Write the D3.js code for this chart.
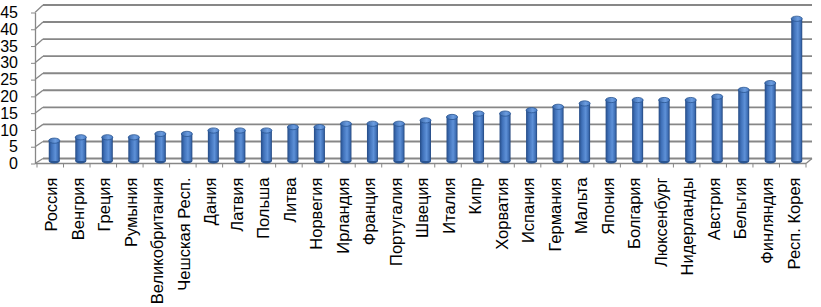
<!DOCTYPE html>
<html><head><meta charset="utf-8">
<script src="https://cdn.jsdelivr.net/npm/d3@7"></script>
<style>
html,body{margin:0;padding:0;background:#fff;}
svg{display:block;}
text{font-family:"Liberation Sans",Arial,sans-serif;fill:#000;}
</style></head>
<body>
<svg id="chart" width="821" height="307"></svg>
<script>
const categories = ["Россия","Венгрия","Греция","Румыния","Великобритания","Чешская Респ.","Дания","Латвия","Польша","Литва","Норвегия","Ирландия","Франция","Португалия","Швеция","Италия","Кипр","Хорватия","Испания","Германия","Мальта","Япония","Болгария","Люксенбург","Нидерланды","Австрия","Бельгия","Финляндия","Респ. Корея"];
const values = [6,7,7,7,8,8,9,9,9,10,10,11,11,11,12,13,14,14,15,16,17,18,18,18,18,19,21,23,42];
const yTicks = [0,5,10,15,20,25,30,35,40,45];

const svg = d3.select("#chart");
const defs = svg.append("defs");
const g1 = defs.append("linearGradient").attr("id","cyl").attr("x1","0").attr("x2","1").attr("y1","0").attr("y2","0");
[["0%","#254b85"],["25%","#3f70b8"],["60%","#5e91d8"],["85%","#3d6db3"],["100%","#23467c"]].forEach(([o,c])=>g1.append("stop").attr("offset",o).attr("stop-color",c));
const g2 = defs.append("linearGradient").attr("id","capg").attr("x1","0").attr("x2","1").attr("y1","0").attr("y2","0");
[["0%","#3a68aa"],["60%","#6c9de0"],["100%","#4a7cc4"]].forEach(([o,c])=>g2.append("stop").attr("offset",o).attr("stop-color",c));

// scales: front (axis), back wall, middle depth (bars)
const yFront = d3.scaleLinear().domain([0,45]).range([163.5,12.5]);
const yBack = d3.scaleLinear().domain([0,45]).range([158.5,5]);
const yMid = d3.scaleLinear().domain([0,45]).range([161,8.6]);
const xFront = d3.scaleBand().domain(categories).range([37,806]);
const xMid = d3.scaleBand().domain(categories).range([41,810]);
const backX0 = 43, backX1 = 812, frontX0 = 35;

const grid = "#878787";
// back wall gridlines
svg.append("g").selectAll("line").data(yTicks).join("line")
  .attr("x1",backX0).attr("x2",backX1)
  .attr("y1",d=>yBack(d)).attr("y2",d=>yBack(d))
  .attr("stroke",grid).attr("stroke-width",1.9);
// left wall diagonals
svg.append("g").selectAll("line").data(yTicks).join("line")
  .attr("x1",frontX0).attr("x2",backX0)
  .attr("y1",d=>yFront(d)).attr("y2",d=>yBack(d))
  .attr("stroke",grid).attr("stroke-width",1.3);
// floor front edge + right diagonal
svg.append("line").attr("x1",frontX0).attr("x2",806).attr("y1",yFront(0)).attr("y2",yFront(0)).attr("stroke",grid).attr("stroke-width",1.3);
svg.append("line").attr("x1",806).attr("x2",backX1).attr("y1",yFront(0)).attr("y2",yBack(0)).attr("stroke",grid).attr("stroke-width",1.3);

// y axis
const yAxis = svg.append("g").attr("transform",`translate(${frontX0},0)`)
  .call(d3.axisLeft(yFront).tickValues(yTicks).tickSize(4).tickSizeOuter(0).tickPadding(13));
yAxis.select(".domain").attr("stroke",grid).attr("stroke-width",1.3);
yAxis.selectAll(".tick line").attr("stroke",grid);
yAxis.selectAll("text").style("font-size","16px").attr("fill","#000");

// category boundary ticks
const bounds = categories.map(c=>xFront(c)).concat([xFront.range()[1]]);
svg.append("g").selectAll("line").data(bounds).join("line")
  .attr("x1",d=>d).attr("x2",d=>d).attr("y1",yFront(0)).attr("y2",yFront(0)+4)
  .attr("stroke",grid).attr("stroke-width",1);

// category labels
const xAxis = svg.append("g").attr("transform",`translate(0,${yFront(0)})`)
  .call(d3.axisBottom(xFront).tickSize(0).tickPadding(0));
xAxis.select(".domain").remove();
xAxis.selectAll("text")
  .style("font-size","16.5px").attr("fill","#000")
  .attr("text-anchor","end")
  .attr("transform","translate(1,14) rotate(-90)")
  .attr("x",0).attr("y",0).attr("dy","0.35em");

// cylinders
const bw = 11, ry = 2.6;
const bars = svg.append("g").selectAll("g").data(categories).join("g")
  .attr("transform",d=>`translate(${xMid(d)+xMid.bandwidth()/2},0)`);
bars.append("ellipse").attr("cx",0).attr("cy",yMid(0)).attr("rx",bw/2).attr("ry",ry).attr("fill","#2a5592");
bars.append("rect").attr("x",-bw/2).attr("width",bw)
  .attr("y",(d,i)=>yMid(values[i])).attr("height",(d,i)=>yMid(0)-yMid(values[i]))
  .attr("fill","url(#cyl)");
bars.append("ellipse").attr("cx",0).attr("cy",(d,i)=>yMid(values[i])).attr("rx",bw/2).attr("ry",ry)
  .attr("fill","url(#capg)").attr("stroke","#2a5592").attr("stroke-width",0.8);
</script>
</body></html>
